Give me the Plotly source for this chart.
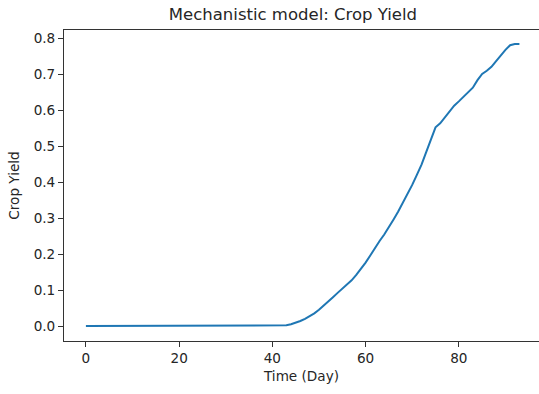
import plotly.graph_objects as go

days = list(range(0, 94))
yield_vals = [0.0] * 42 + [
    0.001, 0.002, 0.005, 0.009, 0.014, 0.020, 0.027, 0.035, 0.045,  # 42-50
    0.056, 0.068, 0.080, 0.092, 0.103, 0.114, 0.127, 0.142, 0.158, 0.176,  # 51-60
    0.196, 0.217, 0.236, 0.254, 0.274, 0.296, 0.318, 0.342, 0.367, 0.392,  # 61-70
    0.420, 0.448, 0.483, 0.518, 0.552, 0.563, 0.580, 0.598, 0.612, 0.624,  # 71-80
    0.636, 0.648, 0.662, 0.683, 0.700, 0.709, 0.720, 0.736, 0.752, 0.767,  # 81-90
    0.780, 0.783, 0.783,  # 91-93
]
x_ticks = [0, 20, 40, 60, 80]
y_ticks = [0.0, 0.1, 0.2, 0.3, 0.4, 0.5, 0.6, 0.7, 0.8]
y_tick_text = ["0.0", "0.1", "0.2", "0.3", "0.4", "0.5", "0.6", "0.7", "0.8"]

FONT = "DejaVu Sans"
TXT = "#262626"

fig = go.Figure()
fig.add_trace(go.Scatter(x=days, y=yield_vals, mode="lines",
                         line=dict(color="#1f77b4", width=2), showlegend=False))

fig.update_layout(
    width=539, height=394,
    margin=dict(l=64, r=0, t=30, b=53),
    paper_bgcolor="white", plot_bgcolor="white",
    font=dict(family=FONT, size=13.6, color=TXT),
    title=dict(text="Mechanistic model: Crop Yield", font=dict(family=FONT, size=16.5, color=TXT),
               x=0.482, xref="paper", xanchor="center", y=1 - 14 / 394, yref="container", yanchor="middle"),
)
fig.update_xaxes(
    range=[-4.7, 97.2], tickvals=x_ticks, ticks="outside", ticklen=5, tickwidth=1, tickcolor="#333",
    showline=True, linecolor="#333", linewidth=1, mirror=True, showgrid=False, zeroline=False,
    tickfont=dict(family=FONT, size=13.6, color=TXT),
    title=dict(text="Time (Day)", standoff=6, font=dict(family=FONT, size=13.6, color=TXT)), automargin=False,
)
fig.update_yaxes(
    range=[-15 / 360, 0.8 + 8 / 360], tickvals=y_ticks, ticktext=y_tick_text, ticks="outside", ticklen=5,
    tickwidth=1, tickcolor="#333", showline=True, linecolor="#333", linewidth=1, showgrid=False,
    zeroline=False, tickfont=dict(family=FONT, size=13.6, color=TXT),
    title=dict(text="Crop Yield", standoff=10, font=dict(family=FONT, size=13.6, color=TXT)), automargin=False,
)

fig.write_html("out.html")
